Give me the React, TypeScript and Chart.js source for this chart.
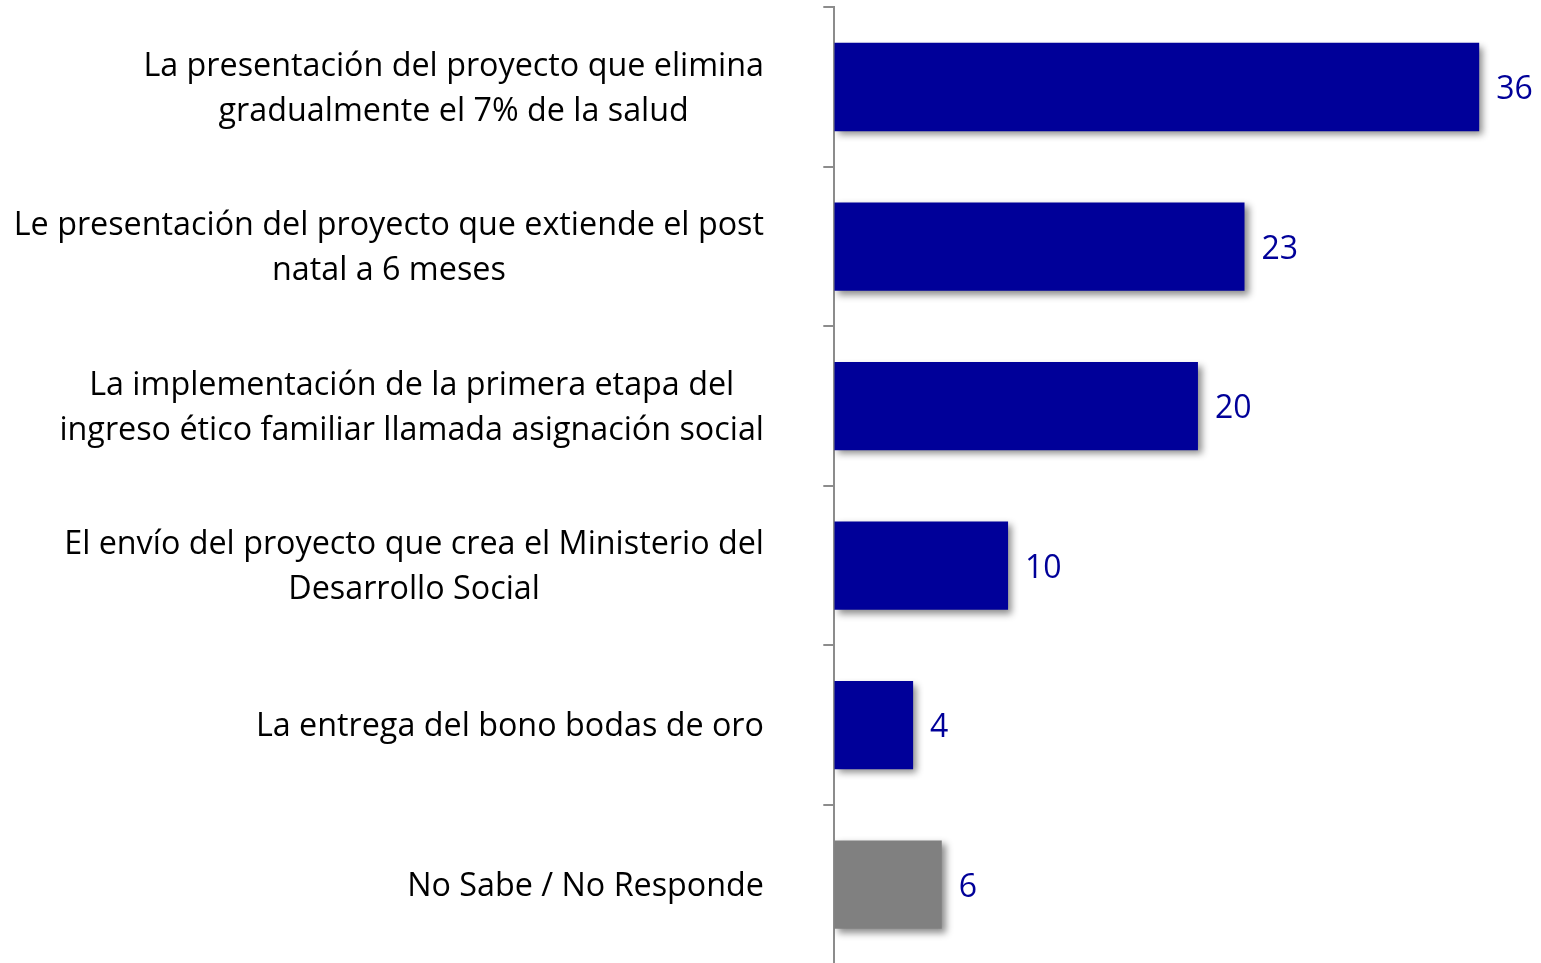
import React, { useEffect, useRef } from "react";
import { Chart, registerables } from "chart.js";

Chart.register(...registerables);

const categories: string[][] = [
  ["La presentación del proyecto que elimina", "gradualmente el 7% de la salud"],
  ["Le presentación del proyecto que extiende el post", "natal a 6 meses"],
  ["La implementación de la primera etapa del", "ingreso ético familiar llamada asignación social"],
  ["El envío del proyecto que crea el Ministerio del", "Desarrollo Social"],
  ["La entrega del bono bodas de oro"],
  ["No Sabe / No Responde"],
];
const values: number[] = [36, 22.9, 20.3, 9.7, 4.4, 6.0];
const barColors: string[] = ["#000099", "#000099", "#000099", "#000099", "#000099", "#808080"];

const FONT = "'Open Sans'";
const LABEL_SIZE = 32.3;
const VALUE_SIZE = 32;

const shadowPlugin = {
  id: "barShadow",
  beforeDatasetsDraw(chart: any) {
    const ctx = chart.ctx;
    ctx.save();
    ctx.shadowColor = "rgba(0,0,0,0.45)";
    ctx.shadowBlur = 7;
    ctx.shadowOffsetX = 4;
    ctx.shadowOffsetY = 4;
  },
  afterDatasetsDraw(chart: any) {
    const ctx = chart.ctx;
    ctx.restore();
    const meta = chart.getDatasetMeta(0);
    ctx.save();
    ctx.font = `${VALUE_SIZE}px ${FONT}`;
    ctx.fillStyle = "#000099";
    ctx.textAlign = "left";
    ctx.textBaseline = "alphabetic";
    meta.data.forEach((el: any, i: number) => {
      ctx.fillText(String(Math.round(values[i])), el.x + 17, el.y + 12.3);
    });
    ctx.restore();
  },
};

const labelPlugin = {
  id: "catLabels",
  afterDraw(chart: any) {
    const ctx = chart.ctx;
    const y = chart.scales.y;
    const right = 764;
    const lineH = 45;
    ctx.save();
    ctx.font = `${LABEL_SIZE}px ${FONT}`;
    ctx.fillStyle = "#000000";
    ctx.textAlign = "center";
    ctx.textBaseline = "alphabetic";
    categories.forEach((lines, i) => {
      const cy = y.getPixelForValue(i);
      const w = Math.max(...lines.map((l) => ctx.measureText(l).width));
      const cx = right - w / 2;
      const start = cy - ((lines.length - 1) * lineH) / 2 + 11.3;
      lines.forEach((l, j) => ctx.fillText(l, cx, start + j * lineH));
    });
    ctx.restore();
  },
};

export default function App() {
  const ref = useRef<HTMLCanvasElement>(null);
  useEffect(() => {
    if (!ref.current) return;
    const chart = new Chart(ref.current, {
      type: "bar",
      data: {
        labels: categories.map((c) => c.join(" ")),
        datasets: [
          {
            data: values,
            backgroundColor: barColors,
            borderWidth: 0,
            barPercentage: 0.554,
            categoryPercentage: 1,
          },
        ],
      },
      options: {
        indexAxis: "y",
        responsive: false,
        animation: false,
        layout: { padding: { top: 7.3, bottom: 0.6, left: 0, right: 0 } },
        plugins: { legend: { display: false }, tooltip: { enabled: false } },
        scales: {
          x: { display: false, min: 0, max: 39.45 },
          y: {
            afterFit: (s: any) => {
              s.width = 834.3;
            },
            ticks: { display: false },
            grid: {
              offset: true,
              drawOnChartArea: false,
              drawTicks: true,
              tickLength: 11,
              color: "#8c8c8c",
              lineWidth: 2,
            },
            border: { display: true, color: "#8c8c8c", width: 2 },
          },
        },
      },
      plugins: [shadowPlugin, labelPlugin],
    });
    return () => chart.destroy();
  }, []);
  return (
    <div style={{ position: "fixed", left: 0, top: 0, width: 1541, height: 963, overflow: "hidden", background: "#fff" }}>
      <canvas ref={ref} width={1541} height={965} style={{ display: "block" }} />
    </div>
  );
}
